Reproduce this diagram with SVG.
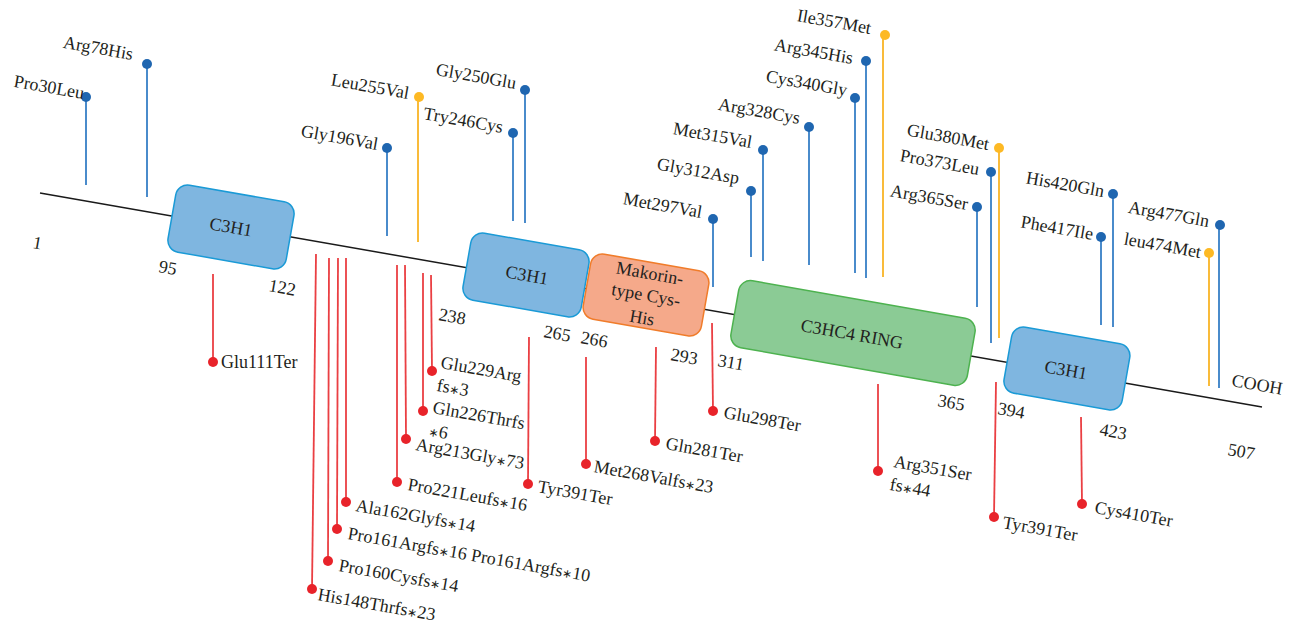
<svg xmlns="http://www.w3.org/2000/svg" width="1291" height="629" viewBox="0 0 1291 629">
<style>
text{font-family:"Liberation Serif","Times New Roman",serif;font-size:18px;fill:#231F20}
.a{font-family:"DejaVu Sans",sans-serif;font-size:12px}
.bb{stroke:#1a1a1a;stroke-width:1.5;fill:none}
.bs{stroke:#4A8BCB;stroke-width:2;fill:none}
.ys{stroke:#F9BB3A;stroke-width:2;fill:none}
.rs{stroke:#EA3F43;stroke-width:1.8;fill:none}
.bd{fill:#1F66B0}
.yd{fill:#FDB924}
.rd{fill:#E8232A}
.c3{fill:#7FB6E0;stroke:#1A9AD6;stroke-width:1.5}
.mk{fill:#F5A98A;stroke:#F07C2A;stroke-width:1.5}
.rg{fill:#8BCB95;stroke:#4DB24F;stroke-width:1.5}
.mid{text-anchor:middle}
.end{text-anchor:end}
</style>
<g id="connectors">
<line class="bb" x1="40" y1="193" x2="1262" y2="407"/>
<line class="bs" x1="86" y1="97" x2="86" y2="185"/>
<line class="bs" x1="147" y1="64" x2="147" y2="197"/>
<line class="bs" x1="387" y1="148" x2="387" y2="236"/>
<line class="ys" x1="418" y1="97" x2="418" y2="242"/>
<line class="bs" x1="513" y1="133" x2="513" y2="221"/>
<line class="bs" x1="525" y1="90" x2="525" y2="223"/>
<line class="bs" x1="751" y1="191" x2="751" y2="257"/>
<line class="bs" x1="763" y1="150" x2="763" y2="261"/>
<line class="bs" x1="809" y1="127" x2="809" y2="265"/>
<line class="bs" x1="855" y1="98" x2="855" y2="273"/>
<line class="bs" x1="866" y1="61" x2="866" y2="278"/>
<line class="ys" x1="883" y1="35" x2="883" y2="277"/>
<line class="bs" x1="977" y1="207" x2="977" y2="307"/>
<line class="bs" x1="991" y1="172" x2="991" y2="343"/>
<line class="ys" x1="999" y1="148" x2="999" y2="338"/>
<line class="bs" x1="1101" y1="237" x2="1101" y2="325"/>
<line class="bs" x1="1113" y1="194" x2="1113" y2="327"/>
<line class="ys" x1="1209" y1="253" x2="1209" y2="386"/>
<line class="bs" x1="1219" y1="225" x2="1219" y2="388"/>
<line class="rs" x1="213" y1="274" x2="213" y2="362"/>
<line class="rs" x1="316" y1="254" x2="312" y2="589"/>
<line class="rs" x1="329" y1="258" x2="328" y2="561"/>
<line class="rs" x1="338" y1="258" x2="337" y2="529"/>
<line class="rs" x1="346" y1="258" x2="346" y2="502"/>
<line class="rs" x1="397" y1="265" x2="397" y2="482"/>
<line class="rs" x1="405" y1="265" x2="406" y2="439"/>
<line class="rs" x1="423" y1="273" x2="423" y2="411"/>
<line class="rs" x1="431" y1="275" x2="432" y2="371"/>
<line class="rs" x1="529" y1="337" x2="528" y2="484"/>
<line class="rs" x1="586" y1="357" x2="586" y2="464"/>
<line class="rs" x1="656" y1="347" x2="655" y2="441"/>
<line class="rs" x1="712" y1="323" x2="713" y2="411"/>
<line class="rs" x1="878" y1="384" x2="878" y2="471"/>
<line class="rs" x1="996" y1="382" x2="994" y2="517"/>
<line class="rs" x1="1081" y1="417" x2="1082" y2="504"/>
</g>
<g id="domain-c3h1-1"><rect class="c3" x="171" y="193" width="120" height="68" rx="12" transform="rotate(10 231 227)"/><text class="mid" x="231" y="233" transform="rotate(10 231 227)">C3H1</text></g>
<g id="domain-c3h1-2"><rect class="c3" x="466" y="241" width="120" height="68" rx="12" transform="rotate(10 526 275)"/><text class="mid" x="527" y="281" transform="rotate(10 526 275)">C3H1</text></g>
<g id="domain-makorin"><rect class="mk" x="586" y="262" width="120" height="66" rx="12" transform="rotate(10 646 295)"/><text class="mid" transform="rotate(10 646 295)"><tspan x="646" y="279">Makorin-</tspan><tspan x="646" y="301">type Cys-</tspan><tspan x="646" y="324">His</tspan></text></g>
<g id="domain-ring"><rect class="rg" x="733" y="299" width="240" height="68" rx="12" transform="rotate(10 853 333)"/><text class="mid" x="852" y="340" transform="rotate(10 852 334)">C3HC4 RING</text></g>
<g id="domain-c3h1-3"><rect class="c3" x="1007" y="335" width="120" height="67" rx="12" transform="rotate(10 1067 368)"/><text class="mid" x="1066" y="376" transform="rotate(10 1066 370)">C3H1</text></g>
<g id="positions">
<text x="32" y="248" transform="rotate(10 32 248)">1</text>
<text x="158" y="272" transform="rotate(10 158 272)">95</text>
<text x="268" y="291" transform="rotate(10 268 291)">122</text>
<text x="438" y="320" transform="rotate(10 438 320)">238</text>
<text x="543" y="337" transform="rotate(10 543 337)">265</text>
<text x="580" y="343" transform="rotate(10 580 343)">266</text>
<text x="670" y="360" transform="rotate(10 670 360)">293</text>
<text x="717" y="366" transform="rotate(10 717 366)">311</text>
<text x="937" y="406" transform="rotate(10 937 406)">365</text>
<text x="997" y="414" transform="rotate(10 997 414)">394</text>
<text x="1099" y="435" transform="rotate(10 1099 435)">423</text>
<text x="1227" y="455" transform="rotate(10 1227 455)">507</text>
<text x="1231" y="386" transform="rotate(10 1231 386)">COOH</text>
</g>
<g id="m-Pro30Leu"><circle class="bd" cx="86" cy="97" r="5"/><text class="end" x="83" y="99" transform="rotate(10 83 99)">Pro30Leu</text></g>
<g id="m-Arg78His"><circle class="bd" cx="147" cy="64" r="5"/><text class="end" x="132" y="60" transform="rotate(10 132 60)">Arg78His</text></g>
<g id="m-Gly196Val"><circle class="bd" cx="387" cy="148" r="5"/><text class="end" x="377" y="150" transform="rotate(10 377 150)">Gly196Val</text></g>
<g id="m-Leu255Val"><circle class="yd" cx="419" cy="97" r="5"/><text class="end" x="408" y="99" transform="rotate(10 408 99)">Leu255Val</text></g>
<g id="m-Try246Cys"><circle class="bd" cx="513" cy="133" r="5"/><text class="end" x="502" y="133" transform="rotate(10 502 133)">Try246Cys</text></g>
<g id="m-Gly250Glu"><circle class="bd" cx="525" cy="90" r="5"/><text class="end" x="515" y="89" transform="rotate(10 515 89)">Gly250Glu</text></g>
<g id="m-Met297Val"><line class="bs" x1="713" y1="219" x2="713" y2="287"/><circle class="bd" cx="713" cy="219" r="5"/><text class="end" x="701" y="218" transform="rotate(10 701 218)">Met297Val</text></g>
<g id="m-Gly312Asp"><circle class="bd" cx="751" cy="191" r="5"/><text class="end" x="738" y="184" transform="rotate(10 738 184)">Gly312Asp</text></g>
<g id="m-Met315Val"><circle class="bd" cx="763" cy="150" r="5"/><text class="end" x="751" y="148" transform="rotate(10 751 148)">Met315Val</text></g>
<g id="m-Arg328Cys"><circle class="bd" cx="809" cy="127" r="5"/><text class="end" x="799" y="124" transform="rotate(10 799 124)">Arg328Cys</text></g>
<g id="m-Cys340Gly"><circle class="bd" cx="855" cy="98" r="5"/><text class="end" x="846" y="96" transform="rotate(10 846 96)">Cys340Gly</text></g>
<g id="m-Arg345His"><circle class="bd" cx="866" cy="61" r="5"/><text class="end" x="852" y="64" transform="rotate(10 852 64)">Arg345His</text></g>
<g id="m-Ile357Met"><circle class="yd" cx="885" cy="35" r="5"/><text class="end" x="870" y="34" transform="rotate(10 870 34)">Ile357Met</text></g>
<g id="m-Glu380Met"><circle class="yd" cx="999" cy="148" r="5"/><text class="end" x="988" y="150" transform="rotate(10 988 150)">Glu380Met</text></g>
<g id="m-Pro373Leu"><circle class="bd" cx="991" cy="172" r="5"/><text class="end" x="978" y="175" transform="rotate(10 978 175)">Pro373Leu</text></g>
<g id="m-Arg365Ser"><circle class="bd" cx="977" cy="207" r="5"/><text class="end" x="967" y="210" transform="rotate(10 967 210)">Arg365Ser</text></g>
<g id="m-His420Gln"><circle class="bd" cx="1113" cy="194" r="5"/><text class="end" x="1103" y="197" transform="rotate(10 1103 197)">His420Gln</text></g>
<g id="m-Phe417Ile"><circle class="bd" cx="1101" cy="237" r="5"/><text class="end" x="1092" y="240" transform="rotate(10 1092 240)">Phe417Ile</text></g>
<g id="m-Arg477Gln"><circle class="bd" cx="1220" cy="225" r="5"/><text class="end" x="1208" y="227" transform="rotate(10 1208 227)">Arg477Gln</text></g>
<g id="m-leu474Met"><circle class="yd" cx="1209" cy="253" r="5"/><text class="end" x="1200" y="258" transform="rotate(10 1200 258)">leu474Met</text></g>
<g id="m-Glu111Ter"><circle class="rd" cx="213" cy="362" r="5"/><text x="221" y="368">Glu111Ter</text></g>
<g id="m-His148Thrfs23"><circle class="rd" cx="312" cy="589" r="5"/><text x="317" y="600" transform="rotate(10 317 600)">His148Thrfs<tspan class="a">∗</tspan>23</text></g>
<g id="m-Pro160Cysfs14"><circle class="rd" cx="328" cy="561" r="5"/><text x="338" y="571" transform="rotate(10 338 571)">Pro160Cysfs<tspan class="a">∗</tspan>14</text></g>
<g id="m-Pro161Argfs"><circle class="rd" cx="337" cy="529" r="5"/><text x="347" y="539" transform="rotate(10 347 539)">Pro161Argfs<tspan class="a">∗</tspan>16 Pro161Argfs<tspan class="a">∗</tspan>10</text></g>
<g id="m-Ala162Glyfs14"><circle class="rd" cx="346" cy="502" r="5"/><text x="355" y="511" transform="rotate(10 355 511)">Ala162Glyfs<tspan class="a">∗</tspan>14</text></g>
<g id="m-Pro221Leufs16"><circle class="rd" cx="397" cy="482" r="5"/><text x="407" y="490" transform="rotate(10 407 490)">Pro221Leufs<tspan class="a">∗</tspan>16</text></g>
<g id="m-Arg213Gly73"><circle class="rd" cx="406" cy="439" r="5"/><text x="415" y="450" transform="rotate(10 415 450)">Arg213Gly<tspan class="a">∗</tspan>73</text></g>
<g id="m-Gln226Thrfs6"><circle class="rd" cx="423" cy="411" r="5"/><text transform="rotate(10 432 413)"><tspan x="432" y="413">Gln226Thrfs</tspan><tspan x="432" y="436"><tspan class="a">∗</tspan>6</tspan></text></g>
<g id="m-Glu229Argfs3"><circle class="rd" cx="432" cy="371" r="5"/><text transform="rotate(10 440 368)"><tspan x="440" y="368">Glu229Arg</tspan><tspan x="440" y="391">fs<tspan class="a">∗</tspan>3</tspan></text></g>
<g id="m-Tyr391Ter-a"><circle class="rd" cx="528" cy="484" r="5"/><text x="537" y="492" transform="rotate(10 537 492)">Tyr391Ter</text></g>
<g id="m-Met268Valfs23"><circle class="rd" cx="586" cy="464" r="5"/><text x="593" y="472" transform="rotate(10 593 472)">Met268Valfs<tspan class="a">∗</tspan>23</text></g>
<g id="m-Gln281Ter"><circle class="rd" cx="655" cy="441" r="5"/><text x="665" y="449" transform="rotate(10 665 449)">Gln281Ter</text></g>
<g id="m-Glu298Ter"><circle class="rd" cx="713" cy="411" r="5"/><text x="723" y="418" transform="rotate(10 723 418)">Glu298Ter</text></g>
<g id="m-Arg351Serfs44"><circle class="rd" cx="878" cy="471" r="5"/><text transform="rotate(10 893 467)"><tspan x="893" y="467">Arg351Ser</tspan><tspan x="893" y="490">fs<tspan class="a">∗</tspan>44</tspan></text></g>
<g id="m-Tyr391Ter-b"><circle class="rd" cx="994" cy="517" r="5"/><text x="1002" y="528" transform="rotate(10 1002 528)">Tyr391Ter</text></g>
<g id="m-Cys410Ter"><circle class="rd" cx="1082" cy="504" r="5"/><text x="1094" y="513" transform="rotate(10 1094 513)">Cys410Ter</text></g>
</svg>
